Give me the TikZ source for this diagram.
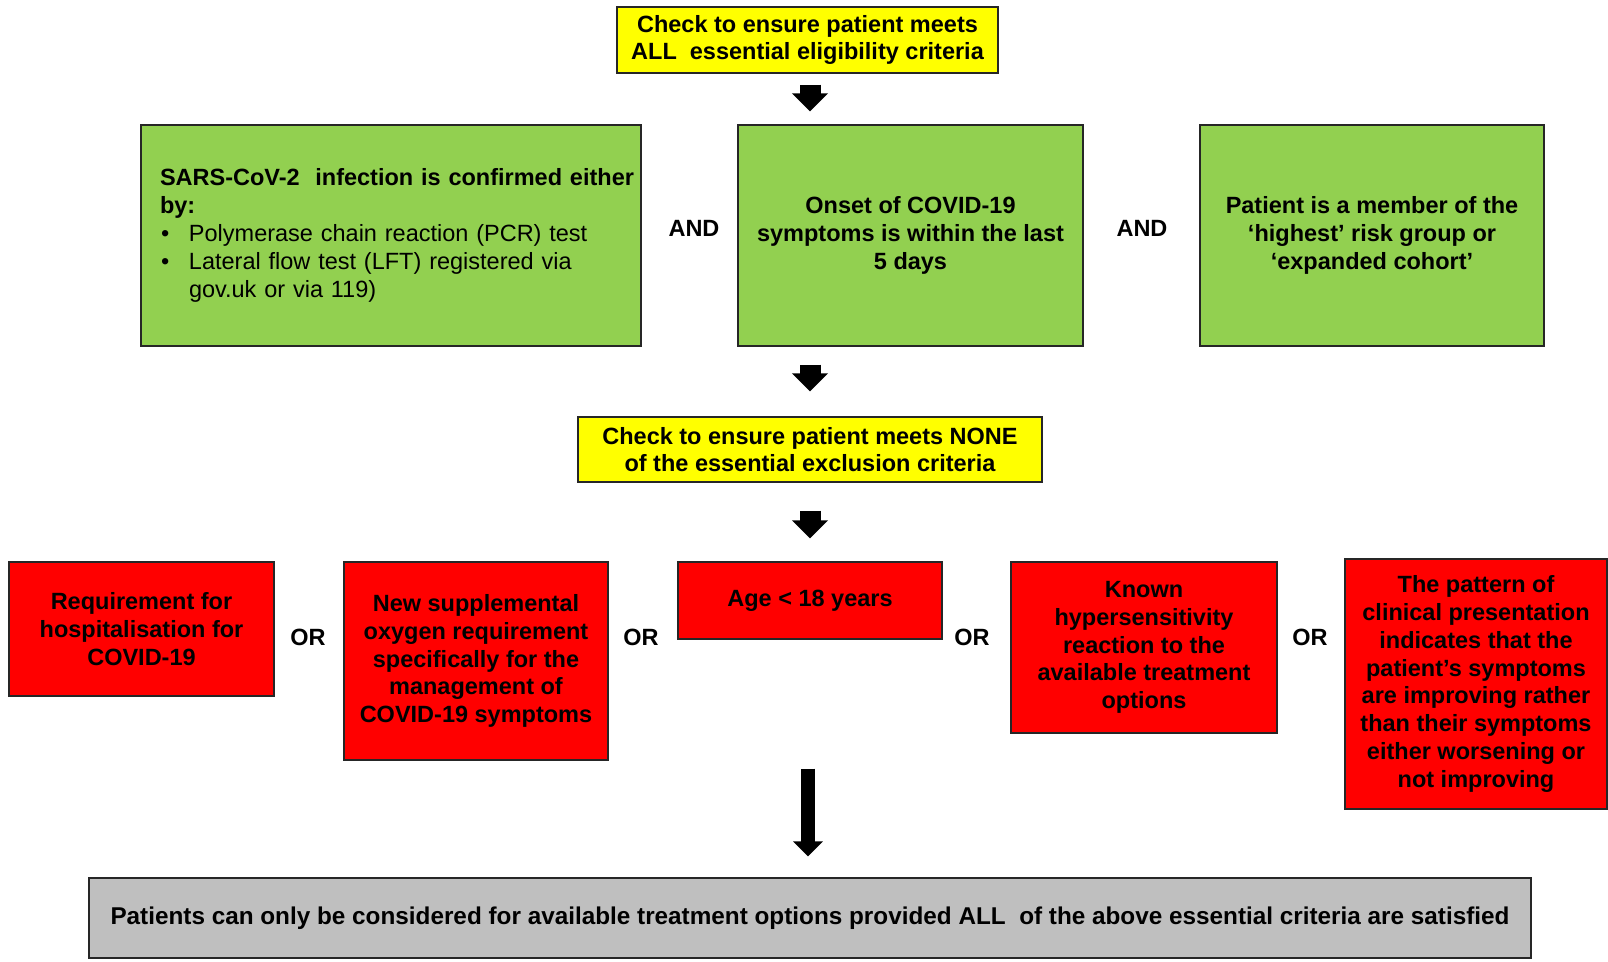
\documentclass[tikz,border=0pt]{standalone}
\usepackage{fontspec}
\setmainfont{Liberation Sans}
\usetikzlibrary{arrows.meta}
\definecolor{crityellow}{HTML}{FFFF00}
\definecolor{critgreen}{HTML}{92D050}
\definecolor{critred}{HTML}{FF0000}
\definecolor{critgrey}{HTML}{BFBFBF}
\tikzset{
  box/.style={draw=black!85, line width=1.2pt, inner sep=0pt, align=center,
    font=\fontsize{23.5}{27.8}\selectfont\bfseries},
  yellowbox/.style={box, fill=crityellow},
  greenbox/.style={box, fill=critgreen, minimum height=221pt},
  redbox/.style={box, fill=critred, minimum width=264pt},
  conj/.style={font=\fontsize{23.5}{27.8}\selectfont\bfseries},
  bigarrow/.style={line width=21pt, -{Triangle[width=35pt,length=18pt]}},
  longarrow/.style={line width=14pt, -{Triangle[width=29pt,length=15pt]}}
}
\newcommand{\critbullet}{\makebox[29pt][l]{\hspace*{1pt}\textbullet}}
\begin{document}
\begin{tikzpicture}[x=1pt, y=-1pt]
    \useasboundingbox (0,0) rectangle (1608,961);
    % eligibility
    \node[yellowbox, minimum width=381pt, minimum height=66pt] (chkall) at (807.5,40)
    {Check to ensure patient meets\\ALL\ \ essential eligibility criteria};
    \node[greenbox, minimum width=500pt, text width=462pt, align=left] (sars) at (391,235.5)
    {\mbox{SARS-CoV-2\ \ infection is confirmed either}\\by:\\
     \mdseries\critbullet Polymerase chain reaction (PCR) test\\
     \mdseries\critbullet Lateral flow test (LFT) registered via\\
     \mdseries\hspace*{29pt}gov.uk or via 119)};
    \node[greenbox, minimum width=345pt] (onset) at (910.5,235.5)
    {Onset of COVID-19\\symptoms is within the last\\5 days};
    \node[greenbox, minimum width=344pt] (member) at (1372,235.5)
    {Patient is a member of the\\`highest' risk group or\\`expanded cohort'};
    \node[conj] (and1) at (694,228) {AND};
    \node[conj] (and2) at (1142,228) {AND};
    % exclusion
    \node[yellowbox, minimum width=464pt, minimum height=65pt] (chknone) at (810,449.5)
    {Check to ensure patient meets NONE\\of the essential exclusion criteria};
    \node[redbox, minimum width=265pt, minimum height=134pt] (hosp) at (141.5,629)
    {Requirement for\\hospitalisation for\\COVID-19};
    \node[redbox, minimum height=198pt] (oxygen) at (476,661)
    {New supplemental\\oxygen requirement\\specifically for the\\management of\\COVID-19 symptoms};
    \node[redbox, minimum height=77pt] (age) at (810,600.5) {Age < 18 years};
    \node[redbox, minimum width=266pt, minimum height=171pt] (hyper) at (1144,647.5)
    {Known\\hypersensitivity\\reaction to the\\available treatment\\options};
    \node[redbox, minimum width=262pt, minimum height=250pt] (pattern) at (1476,684)
    {The pattern of\\clinical presentation\\indicates that the\\patient's symptoms\\are improving rather\\than their symptoms\\either worsening or\\not improving};
    \node[conj] (or1) at (308,637) {OR};
    \node[conj] (or2) at (641,637) {OR};
    \node[conj] (or3) at (972,637) {OR};
    \node[conj] (or4) at (1310,637) {OR};
    \node[box, fill=critgrey, minimum width=1442pt, minimum height=80pt,
      font=\fontsize{24.3}{28}\selectfont\bfseries] (final) at (810,918)
    {Patients can only be considered for available treatment options provided ALL\ \ of the above essential criteria are satisfied};
    % arrows
    \draw[bigarrow, shorten <=11pt, shorten >=13pt] ([xshift=2.5pt]chkall.south) -- ([xshift=2.5pt]chkall.south |- onset.north);
    \draw[bigarrow, shorten <=18pt, shorten >=25pt] (chknone.north |- onset.south) -- (chknone.north);
    \draw[bigarrow, shorten <=28pt, shorten >=23pt] (chknone.south) -- (chknone.south |- age.north);
    \draw[longarrow, shorten <=129pt, shorten >=21pt] ([xshift=-2pt]age.south) -- ([xshift=-2pt]age.south |- final.north);
\end{tikzpicture}
\end{document}
